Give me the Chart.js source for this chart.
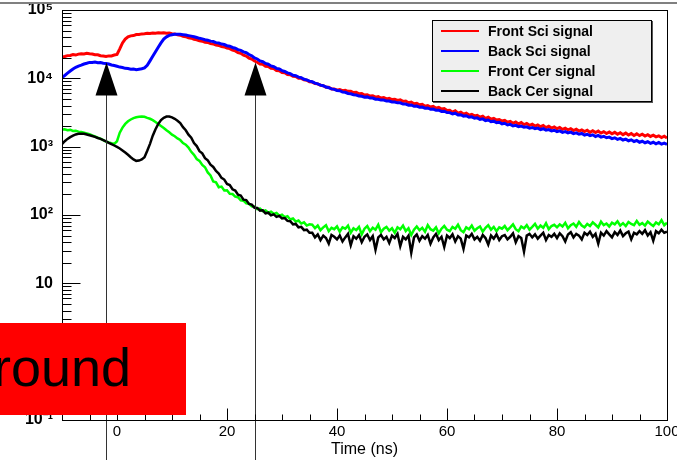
<!DOCTYPE html>
<html>
<head>
<meta charset="utf-8">
<title>Sci / Cer signals</title>
<script src="https://cdn.jsdelivr.net/npm/chart.js@4.4.1/dist/chart.umd.min.js"></script>
<style>
  body { margin: 0; background: #fff; }
  #wrap { position: relative; width: 677px; height: 460px; overflow: hidden; }
  #plot { position: absolute; left: 0; top: 0; }
  #legend {
    position: absolute; left: 432px; top: 20px; width: 218px; height: 80px;
    background: #efefef; border: 1px solid #000; box-shadow: 1px 1px 0 #555;
    font: bold 14px "Liberation Sans", Arial, sans-serif; color: #000;
  }
  #legend .row { position: absolute; left: 0; height: 20px; line-height: 20px; white-space: nowrap; }
  #legend .swatch { position: absolute; left: 8px; top: 9px; width: 38px; height: 2px; }
  #legend .label { position: absolute; left: 55px; }
  #stamp {
    position: absolute; left: 0; top: 323px; width: 186px; height: 92px;
    background: #ff0000; overflow: hidden;
  }
  #stamp span {
    position: absolute; left: -7px; top: 17px; white-space: nowrap;
    font: 54px/1 "Liberation Sans", Arial, sans-serif; color: #000;
  }
</style>
</head>
<body>
<div id="wrap">
  <canvas id="plot" width="677" height="460"></canvas>
  <div id="legend"></div>
  <div id="stamp"><span>round</span></div>
</div>
<script>
// bin centres: 0.5 ns bins from -10 to 100 ns
const timeNs = Array.from({ length: 221 }, (_, i) => -10 + i * 0.5);

const seriesNames = ["Front Sci signal", "Back Sci signal", "Front Cer signal", "Back Cer signal"];
const seriesColors = ["#ff0000", "#0000ff", "#00ff00", "#000000"];

const frontSci = [
  20400, 20900, 21500, 21600, 22300, 21900, 22600, 22900, 22800, 23300, 22900, 22700, 22200, 22100, 21400, 21200, 20900, 21300, 21300, 21900, 22400,
  27000, 33000, 37500, 40500, 41800, 42300, 43800, 43900, 44700, 44800,
  45500, 45200, 46100, 45800, 46300, 45900, 46400, 45600, 45900, 45100,
  44700, 43300, 42800, 41300, 40700, 39300, 38700, 37300, 36700, 35300,
  35000, 33800, 33500, 32200, 31900, 30600, 30300, 29100, 28800, 27700,
  27200, 25800, 25200, 23800, 23200, 21800, 21200, 19800, 19100, 17900,
  17200, 16200, 16000, 15000, 14900, 14000, 13900, 13000, 12900, 12200,
  12100, 11400, 11300, 10700, 10600, 10000, 10000, 9500, 9400, 8900,
  8800, 8400, 8300, 7900, 7800, 7400, 7400, 7000, 7000, 6700,
  6850, 6600, 6700, 6450, 6450, 6200, 6250, 5950, 6000, 5700,
  5750, 5500, 5550, 5300, 5400, 5150, 5250, 5000, 5100, 4900,
  4950, 4750, 4850, 4600, 4650, 4400, 4500, 4250, 4300, 4100,
  4150, 3900, 4000, 3800, 3900, 3650, 3750, 3550, 3600, 3380,
  3400, 3200, 3350, 3100, 3200, 3000, 3100, 2900, 2980, 2820,
  2880, 2700, 2800, 2600, 2700, 2520, 2600, 2450, 2500, 2370,
  2420, 2280, 2350, 2200, 2300, 2150, 2250, 2100, 2180, 2050,
  2130, 2000, 2080, 1960, 2040, 1900, 1990, 1870, 1950, 1830,
  1910, 1790, 1870, 1760, 1830, 1720, 1800, 1690, 1760, 1660,
  1740, 1620, 1710, 1610, 1690, 1580, 1660, 1560, 1640, 1540,
  1620, 1520, 1600, 1500, 1580, 1480, 1560, 1460, 1540, 1450,
  1520, 1430, 1500, 1410, 1470, 1390, 1440, 1360, 1420, 1340,
];

const backSci = [
  10300, 11000, 11900, 12800, 13700, 14500, 15100, 15600, 16200, 16600, 17100, 17000, 17300, 16900, 17000, 16600, 16500, 16200, 15700, 15400, 15000,
  14600, 14400, 14000, 13900, 13600, 13700, 13400, 13600, 13800, 14200,
  15500, 18000, 21000, 24500, 28500, 33000, 37500, 40500, 42500, 43500,
  44000, 44200, 44000, 43600, 43000, 42200, 41500, 40500, 39500, 38500,
  37800, 36800, 36200, 35000, 34500, 33300, 32800, 31700, 31200, 30000,
  29500, 28300, 27600, 26300, 25700, 24400, 23700, 22300, 21400, 19900,
  19200, 18000, 17500, 16500, 16100, 15200, 14800, 14000, 13700, 13000,
  12600, 12000, 11700, 11100, 10900, 10400, 10200, 9700, 9500, 9100,
  8900, 8500, 8300, 7950, 7800, 7450, 7300, 7000, 6900, 6650,
  6600, 6300, 6250, 6000, 5950, 5750, 5700, 5500, 5450, 5300,
  5350, 5150, 5150, 4950, 4950, 4800, 4800, 4650, 4650, 4500,
  4500, 4380, 4380, 4200, 4200, 4050, 4080, 3900, 3920, 3780,
  3800, 3650, 3680, 3520, 3550, 3400, 3420, 3280, 3300, 3160,
  3150, 3010, 3090, 2900, 2930, 2800, 2830, 2690, 2730, 2600,
  2640, 2500, 2550, 2410, 2450, 2320, 2360, 2250, 2280, 2160,
  2200, 2080, 2120, 2010, 2050, 1960, 2000, 1920, 1950, 1870,
  1910, 1830, 1870, 1780, 1830, 1740, 1780, 1700, 1740, 1660,
  1700, 1620, 1660, 1590, 1630, 1550, 1590, 1520, 1560, 1480,
  1520, 1450, 1490, 1410, 1460, 1380, 1420, 1350, 1380, 1310,
  1350, 1280, 1320, 1250, 1290, 1220, 1260, 1190, 1230, 1160,
  1200, 1140, 1180, 1120, 1160, 1100, 1150, 1090, 1130, 1080,
];

const frontCer = [
  1780, 1800, 1740, 1760, 1700, 1710, 1660, 1640, 1600, 1560, 1520, 1460, 1410, 1360, 1310, 1250, 1190, 1150, 1120, 1100, 1200,
  1600, 1900, 2150, 2350, 2500, 2620, 2700, 2740, 2760, 2740,
  2640, 2560, 2440, 2300, 2150, 2010, 1880, 1740, 1620, 1500,
  1420, 1320, 1250, 1130, 1070, 970, 840, 760, 660, 620,
  540, 500, 420, 380, 310, 300, 255, 260, 228, 230,
  205, 203, 186, 182, 164, 162, 148, 146, 134, 132,
  122, 124, 114, 117, 108, 112, 104, 107, 98, 101,
  93, 96, 86, 89, 80, 83, 75, 78, 70, 73,
  72, 64, 70, 60, 66, 71, 58, 65, 62, 68,
  57, 66, 63, 70, 55, 64, 60, 67, 52, 63,
  69, 58, 65, 61, 72, 56, 63, 67, 59, 64,
  55, 66, 62, 70, 58, 64, 51, 61, 68, 60,
  65, 57, 71, 62, 59, 66, 54, 63, 69, 61,
  58, 67, 63, 72, 60, 56, 66, 62, 70, 59,
  64, 68, 57, 65, 71, 61, 67, 58, 66, 63,
  69, 60, 66, 73, 62, 58, 68, 64, 71, 61,
  67, 74, 63, 70, 65, 76, 62, 69, 72, 66,
  73, 68, 77, 64, 71, 75, 67, 79, 70, 66,
  74, 69, 78, 72, 66, 80, 71, 75, 68, 77,
  73, 81, 70, 76, 69, 79, 74, 71, 82, 72,
  76, 70, 80, 74, 69, 78, 73, 84, 71, 77,
];

const backCer = [
  1090, 1200, 1300, 1380, 1450, 1510, 1540, 1550, 1540, 1510, 1470, 1430, 1390, 1340, 1300, 1250, 1200, 1140, 1090, 1040, 990,
  940, 880, 820, 760, 700, 650, 620, 625, 650, 700,
  870, 1100, 1450, 1800, 2150, 2450, 2650, 2760, 2760, 2680,
  2560, 2400, 2220, 1930, 1740, 1500, 1350, 1130, 1020, 860,
  800, 680, 630, 545, 505, 440, 405, 350, 330, 285,
  275, 238, 228, 198, 193, 168, 165, 145, 142, 128,
  127, 116, 117, 106, 108, 99, 102, 94, 97, 89,
  90, 82, 81, 73, 74, 66, 67, 60, 61, 55,
  55, 47, 52, 43, 50, 46, 38, 51, 48, 44,
  50, 41, 47, 53, 36, 49, 45, 51, 40, 48,
  52, 43, 49, 31, 47, 51, 44, 48, 39, 50,
  46, 53, 35, 48, 44, 50, 28, 47, 52, 42,
  49, 45, 51, 38, 47, 53, 43, 48, 34, 50,
  46, 52, 41, 49, 45, 32, 50, 47, 53, 44,
  48, 42, 51, 46, 37, 50, 45, 52, 43, 49,
  51, 44, 48, 54, 40, 49, 46, 29, 50, 53,
  47, 52, 45, 50, 55, 43, 51, 48, 53, 46,
  54, 49, 41, 52, 56, 47, 53, 50, 44, 55,
  51, 57, 48, 53, 38, 55, 50, 58, 52, 47,
  56, 51, 59, 49, 54, 57, 44, 55, 52, 58,
  53, 60, 50, 56, 42, 58, 54, 61, 55, 57,
];

const xTickValues = [0, 20, 40, 60, 80, 100];
const yTickValues = [0.1, 1, 10, 100, 1000, 10000, 100000];
const yTickLabels = ["10\u207B\u00B9", "1", "10", "10\u00B2", "10\u00B3", "10\u2074", "10\u2075"];

// arrows marking the two timing windows
const arrowTimes = [-2, 25];
const arrowTipCounts = [17000, 17000];

const FONT = '"Liberation Sans", Arial, sans-serif';

// ROOT-like frame: inward tick marks, black box, arrows
const rootFrame = {
  id: "rootFrame",
  afterDatasetsDraw(chart) {
    const { ctx, scales: { x, y } } = chart;
    ctx.save();
    arrowTimes.forEach((t, i) => {
      const px = Math.round(x.getPixelForValue(t)) + 0.5;
      const tip = y.getPixelForValue(arrowTipCounts[i]);
      ctx.strokeStyle = "#333";
      ctx.lineWidth = 1;
      ctx.beginPath();
      ctx.moveTo(px, tip + 20);
      ctx.lineTo(px, chart.height);
      ctx.stroke();
      ctx.fillStyle = "#000";
      ctx.beginPath();
      ctx.moveTo(px, tip);
      ctx.lineTo(px - 11, tip + 33);
      ctx.lineTo(px + 11, tip + 33);
      ctx.closePath();
      ctx.fill();
    });
    ctx.restore();
  },
  afterDraw(chart) {
    const { ctx, chartArea: a, scales: { x, y } } = chart;
    const L = Math.round(a.left) + 0.5, R = Math.round(a.right) + 0.5;
    const T = Math.round(a.top) + 0.5, B = Math.round(a.bottom) + 0.5;
    ctx.save();
    ctx.strokeStyle = "#000";
    ctx.lineWidth = 1;
    ctx.beginPath();
    for (let t = -5; t < 100; t += 5) {
      const px = Math.round(x.getPixelForValue(t)) + 0.5;
      const len = t % 20 === 0 ? 12 : 6;
      ctx.moveTo(px, B);
      ctx.lineTo(px, B - len);
    }
    for (let e = -1; e <= 5; e++) {
      const dec = Math.pow(10, e);
      const py = Math.round(y.getPixelForValue(dec)) + 0.5;
      ctx.moveTo(L, py);
      ctx.lineTo(L + 18, py);
      if (e === 5) continue;
      for (let m = 2; m <= 9; m++) {
        const my = Math.round(y.getPixelForValue(m * dec)) + 0.5;
        ctx.moveTo(L, my);
        ctx.lineTo(L + 9, my);
      }
    }
    ctx.stroke();
    ctx.strokeRect(L, T, R - L, B - T);
    ctx.fillStyle = "#808080";
    ctx.fillRect(0, 2, chart.width, 2);
    ctx.restore();
  },
};

class SignalPlot {
  constructor(id) {
    this.ctx = document.getElementById(id);
    const series = [frontSci, backSci, frontCer, backCer];
    // black on top, then green, blue, red
    const order = [3, 2, 1, 0];
    const widths = [3, 3, 2.5, 2.5];

    this.chart = new Chart(this.ctx, {
      type: "line",
      data: {
        datasets: series.map((values, i) => ({
          label: seriesNames[i],
          data: values.map((v, k) => ({ x: timeNs[k], y: v })),
          borderColor: seriesColors[i],
          backgroundColor: seriesColors[i],
          borderWidth: widths[i],
          pointRadius: 0,
          tension: 0,
          order: order[i],
        })),
      },
      options: this.chartOptions,
      plugins: [rootFrame],
    });
    this.buildLegend();
  }

  buildLegend() {
    const box = document.getElementById("legend");
    seriesNames.forEach((name, i) => {
      const row = document.createElement("div");
      row.className = "row";
      row.style.top = (i * 20.2 - 0.5) + "px";
      row.style.width = "100%";
      const sw = document.createElement("span");
      sw.className = "swatch";
      sw.style.background = seriesColors[i];
      const lb = document.createElement("span");
      lb.className = "label";
      lb.textContent = name;
      row.appendChild(sw);
      row.appendChild(lb);
      box.appendChild(row);
    });
  }

  get chartOptions() {
    return {
      responsive: false,
      animation: false,
      layout: { padding: { top: 10, right: 10, bottom: 0, left: 0 } },
      plugins: { legend: { display: false }, tooltip: { enabled: false } },
      scales: {
        x: {
          type: "linear",
          min: -10,
          max: 100,
          grid: { display: false, drawTicks: false },
          border: { display: false },
          afterBuildTicks: (s) => { s.ticks = xTickValues.map((v) => ({ value: v })); },
          afterFit: (s) => { s.height = 40; s.paddingLeft = 0; s.paddingRight = 0; },
          ticks: {
            autoSkip: false,
            maxRotation: 0,
            padding: 3,
            color: "#000",
            font: { family: FONT, size: 15 },
            callback: (v) => String(v),
          },
          title: {
            display: true,
            text: "Time (ns)",
            color: "#000",
            font: { family: FONT, size: 16 },
            padding: { top: 0, bottom: 1 },
          },
        },
        y: {
          type: "logarithmic",
          min: 0.1,
          max: 100000,
          grid: { display: false, drawTicks: false },
          border: { display: false },
          afterBuildTicks: (s) => { s.ticks = yTickValues.map((v) => ({ value: v })); },
          afterFit: (s) => { s.width = 62; s.paddingTop = 0; s.paddingBottom = 0; },
          ticks: {
            autoSkip: false,
            padding: 9,
            color: "#000",
            font: { family: FONT, size: 16, weight: "bold" },
            callback: (v, i) => yTickLabels[i],
          },
        },
      },
    };
  }
}

new SignalPlot("plot");
</script>
</body>
</html>
